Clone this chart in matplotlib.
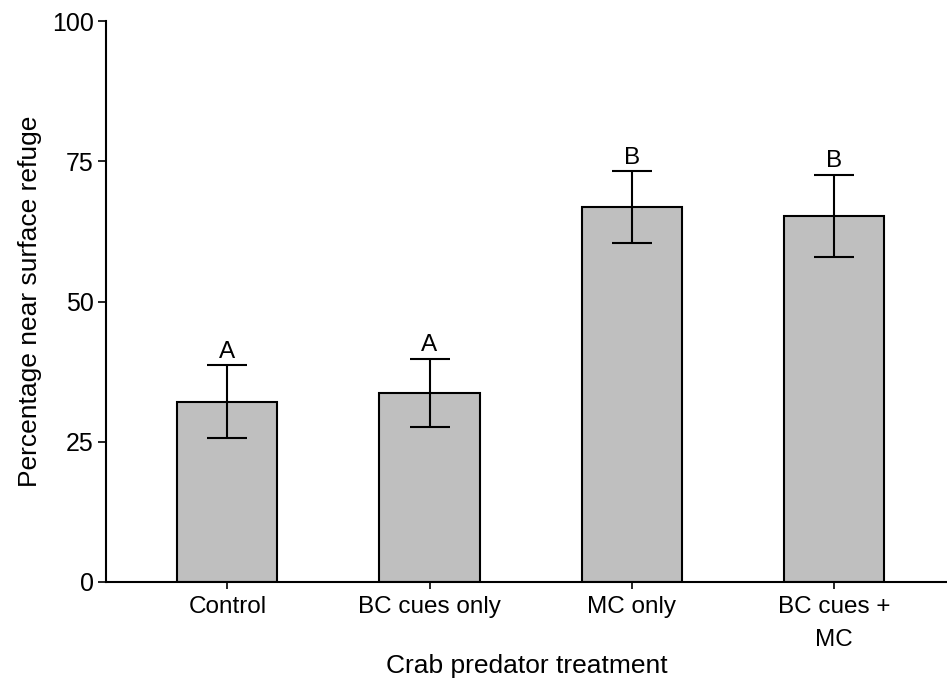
import matplotlib
matplotlib.use('Agg')
import matplotlib.pyplot as plt
import numpy as np

plt.rcParams['font.family'] = ['Liberation Sans', 'DejaVu Sans']

# mean percentage near the surface refuge, with standard error
treatments = ['Control', 'BC cues only', 'MC only', 'BC cues +\nMC']
means = [32.1, 33.7, 66.8, 65.3]
errors = [6.5, 6.1, 6.4, 7.3]
letters = ['A', 'A', 'B', 'B']

fig = plt.figure(figsize=(9.47, 6.78), dpi=100)
ax = fig.add_axes([0.112, 0.1416, 0.888, 0.8274])

x = np.arange(len(treatments))
ax.bar(x, means, width=0.495, color='#bfbfbf', edgecolor='black', linewidth=1.5,
       yerr=errors, capsize=14.5,
       error_kw=dict(ecolor='black', elinewidth=1.5, capthick=1.5), zorder=2)

# significance letters sit just above each error bar
for xi, m, e, lab in zip(x, means, errors, letters):
    ax.text(xi, m + e + 0.5, lab, ha='center', va='bottom', fontsize=17.5)

ax.set_xlim(-0.6, 3.56)
ax.set_ylim(0, 100)
ax.set_yticks([0, 25, 50, 75, 100])
ax.set_xticks(x)
ax.set_xticklabels(treatments, fontsize=17.5, linespacing=1.65)
ax.tick_params(axis='y', labelsize=18, length=6, width=1.2, direction='out', pad=3)
ax.tick_params(axis='x', length=5, width=1.2, direction='out', pad=5)

for side in ['top', 'right']:
    ax.spines[side].set_visible(False)
for side in ['left', 'bottom']:
    ax.spines[side].set_linewidth(1.5)

ax.set_ylabel('Percentage near surface refuge', fontsize=19, labelpad=7)
ax.set_xlabel('Crab predator treatment', fontsize=19)
ax.xaxis.set_label_coords(0.5, -0.128)

fig.savefig('out.png', dpi=100)
